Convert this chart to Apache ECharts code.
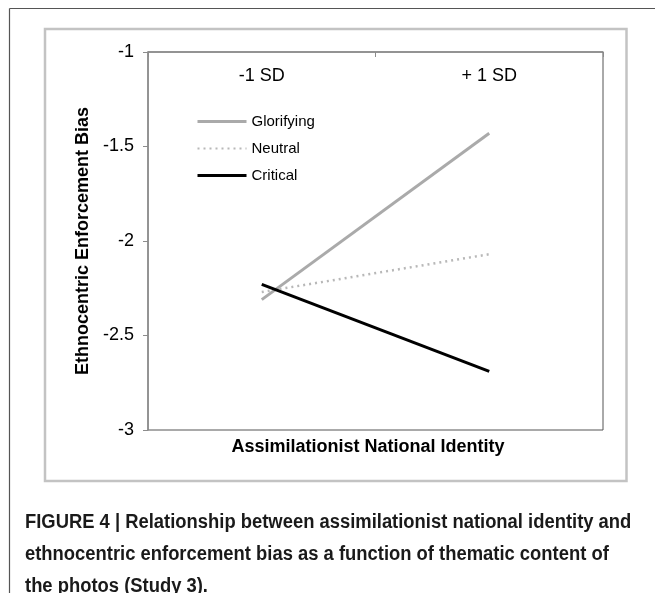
<!DOCTYPE html>
<html>
<head>
<meta charset="utf-8">
<script src="https://cdn.jsdelivr.net/npm/echarts@6/dist/echarts.min.js"></script>
<style>
html,body{margin:0;padding:0;background:#fff;}
#c{width:655px;height:593px;}
</style>
</head>
<body>
<div id="c"></div>
<script>
const categories = ['-1 SD', '+ 1 SD'];
const glorifying = [-2.31, -1.43];
const neutral = [-2.27, -2.07];
const critical = [-2.23, -2.69];
const yTicks = { min: -3, max: -1, interval: 0.5 };
const yAxisTitle = 'Ethnocentric Enforcement Bias';
const xAxisTitle = 'Assimilationist National Identity';
const captionLines = [
  'FIGURE 4 | Relationship between assimilationist national identity and',
  'ethnocentric enforcement bias as a function of thematic content of',
  'the photos (Study 3).'
];

const chart = echarts.init(document.getElementById('c'), null, { renderer: 'canvas' });
const FF = "'Liberation Sans', Arial, sans-serif";

function captionText(t, y) {
  return { type: 'text', x: 25, y: y, scaleX: 0.92, scaleY: 1, originX: 0, originY: 0,
    style: { text: t, x: 0, y: 0, verticalAlign: 'middle', font: "bold 20px " + FF, fill: '#1a1a1a' }, silent: true };
}

chart.setOption({
  animation: false,
  backgroundColor: '#fff',
  grid: {
    left: 148, top: 52, right: 52, bottom: 163,
    show: true, borderColor: '#555', borderWidth: 1, backgroundColor: 'transparent'
  },
  legend: {
    orient: 'vertical',
    left: 196, top: 114, padding: 0,
    itemWidth: 49, itemHeight: 14, itemGap: 12,
    itemStyle: { opacity: 0 },
    textStyle: { fontFamily: FF, fontSize: 15, color: '#000', lineHeight: 14 },
    data: [
      { name: 'Glorifying', lineStyle: { width: 3 } },
      { name: 'Neutral', lineStyle: { width: 2 } },
      { name: 'Critical', lineStyle: { width: 3 } }
    ]
  },
  xAxis: {
    type: 'category',
    position: 'top',
    data: categories,
    boundaryGap: true,
    axisLine: { show: true, lineStyle: { color: '#8c8c8c', width: 1.5 } },
    axisTick: { show: true, inside: true, length: 5, lineStyle: { color: '#8c8c8c' } },
    axisLabel: { inside: true, margin: 15, fontFamily: FF, fontSize: 18, color: '#000' },
    splitLine: { show: false }
  },
  yAxis: {
    type: 'value',
    min: yTicks.min, max: yTicks.max, interval: yTicks.interval,
    name: yAxisTitle,
    nameLocation: 'middle',
    nameGap: 51,
    nameTextStyle: { fontFamily: FF, fontSize: 18, fontWeight: 'bold', color: '#000' },
    axisLine: { show: true, lineStyle: { color: '#8c8c8c', width: 1.5 } },
    axisTick: { show: true, inside: false, length: 5, lineStyle: { color: '#8c8c8c' } },
    axisLabel: { margin: 14, fontFamily: FF, fontSize: 18, color: '#000' },
    splitLine: { show: false }
  },
  series: [
    { name: 'Glorifying', type: 'line', data: glorifying, symbol: 'none',
      lineStyle: { color: '#aaaaaa', width: 3 }, itemStyle: { color: '#aaaaaa' }, z: 2 },
    { name: 'Neutral', type: 'line', data: neutral, symbol: 'none',
      lineStyle: { color: '#b8b8b8', width: 2.5, type: [2, 4] }, itemStyle: { color: '#b8b8b8' }, z: 3 },
    { name: 'Critical', type: 'line', data: critical, symbol: 'none',
      lineStyle: { color: '#000000', width: 3 }, itemStyle: { color: '#000000' }, z: 4 }
  ],
  graphic: [
    { type: 'line', shape: { x1: 9.5, y1: 593, x2: 9.5, y2: 8.5 }, style: { stroke: '#555', lineWidth: 1.2 }, silent: true },
    { type: 'line', shape: { x1: 9.5, y1: 8.5, x2: 655, y2: 8.5 }, style: { stroke: '#555', lineWidth: 1.2 }, silent: true },
    { type: 'rect', shape: { x: 45, y: 29, width: 581.5, height: 452 }, style: { fill: 'none', stroke: '#c3c3c3', lineWidth: 2.5 }, silent: true, z: -1 },
    { type: 'text', style: { text: xAxisTitle, x: 368, y: 447, align: 'center', verticalAlign: 'middle', font: "bold 18px " + FF, fill: '#000' }, silent: true },
    captionText(captionLines[0], 522),
    captionText(captionLines[1], 554),
    captionText(captionLines[2], 586)
  ]
});
</script>
</body>
</html>
